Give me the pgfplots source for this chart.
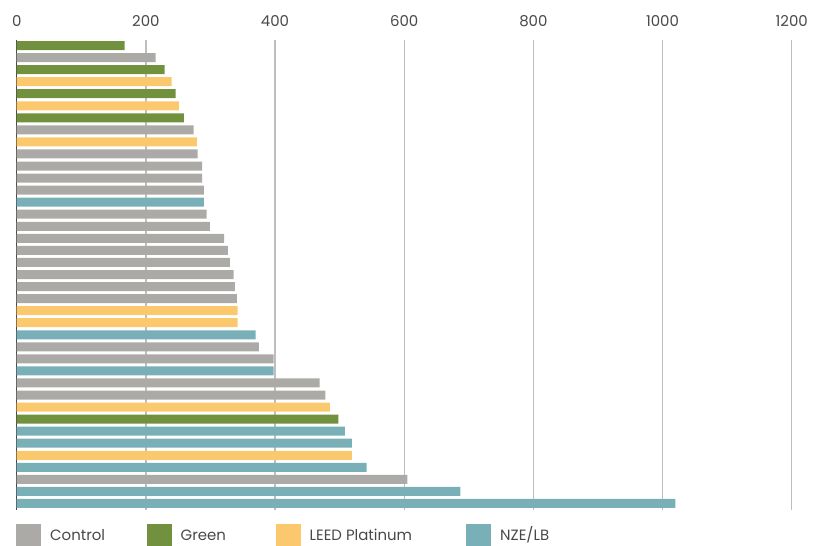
\documentclass[border=0pt]{standalone}
\usepackage{fontspec}
\setmainfont{Poppins}
\usepackage{pgfplots}
\pgfplotsset{compat=1.18}
\definecolor{cControl}{RGB}{171,170,166}
\definecolor{cGreen}{RGB}{114,145,63}
\definecolor{cLeed}{RGB}{252,200,110}
\definecolor{cNze}{RGB}{121,175,183}
\definecolor{txt}{RGB}{72,72,72}
\definecolor{gridc}{RGB}{190,190,190}
\newcommand{\lbl}{\fontsize{15}{18}\selectfont}

\begin{document}
\begin{tikzpicture}
\useasboundingbox (-16.7bp,-36.5bp) rectangle (801.3bp,509.5bp);
\begin{axis}[
    at={(0,0)}, anchor=south west,
    scale only axis,
    width=775bp, height=470bp,
    xbar, bar width=9bp, bar shift=0pt,
    xmin=0, xmax=1200,
    ymin=0.5, ymax=39.5,
    y dir=reverse,
    enlargelimits=false,
    axis x line*=top,
    axis y line*=left,
    x axis line style={draw=none},
    y axis line style={draw=txt, line width=1bp},
    xtick={0,200,...,1200},
    ytick=\empty,
    major tick length=0pt,
    xmajorgrids=true,
    grid style={draw=gridc, line width=1.3bp},
    /pgf/number format/assume math mode=true,
    /pgf/number format/1000 sep={},
    xticklabel style={font=\lbl, text=txt, anchor=base, inner sep=0pt, yshift=13.5bp},
    legend style={
        at={(axis description cs:0,0)}, anchor=north west,
        xshift=-0.7bp, yshift=-14.5bp,
        draw=none, fill=none, inner sep=0pt,
        column sep=0pt,
        legend columns=4,
        nodes={inner sep=0pt, anchor=base west, font=\lbl, text=txt},
    },
    legend image code/.code={
        \fill[#1] (0bp,-9bp) rectangle (25bp,16bp);
        \path (34bp,0bp);
    },
]
% Control
\addplot[fill=cControl, draw=none] coordinates {
    (215,2) (274,8) (280,10) (287,11) (287,12) (290,13) (294,15) (299,16)
    (321,17) (327,18) (330,19) (336,20) (338,21) (341,22) (375,26) (398,27)
    (469,29) (478,30) (605,37)
};
% Green
\addplot[fill=cGreen, draw=none] coordinates {
    (167,1) (229,3) (246,5) (259,7) (498,32)
};
% LEED Platinum
\addplot[fill=cLeed, draw=none] coordinates {
    (240,4) (251,6) (279,9) (342,23) (342,24) (485,31) (519,35)
};
% NZE/LB
\addplot[fill=cNze, draw=none] coordinates {
    (290,14) (370,25) (398,28) (508,33) (519,34) (542,36) (687,38) (1020,39)
};
\legend{\makebox[96.5bp][l]{Control}, \makebox[95bp][l]{Green}, \makebox[156.5bp][l]{LEED Platinum}, NZE/LB}
\end{axis}
\end{tikzpicture}
\end{document}
